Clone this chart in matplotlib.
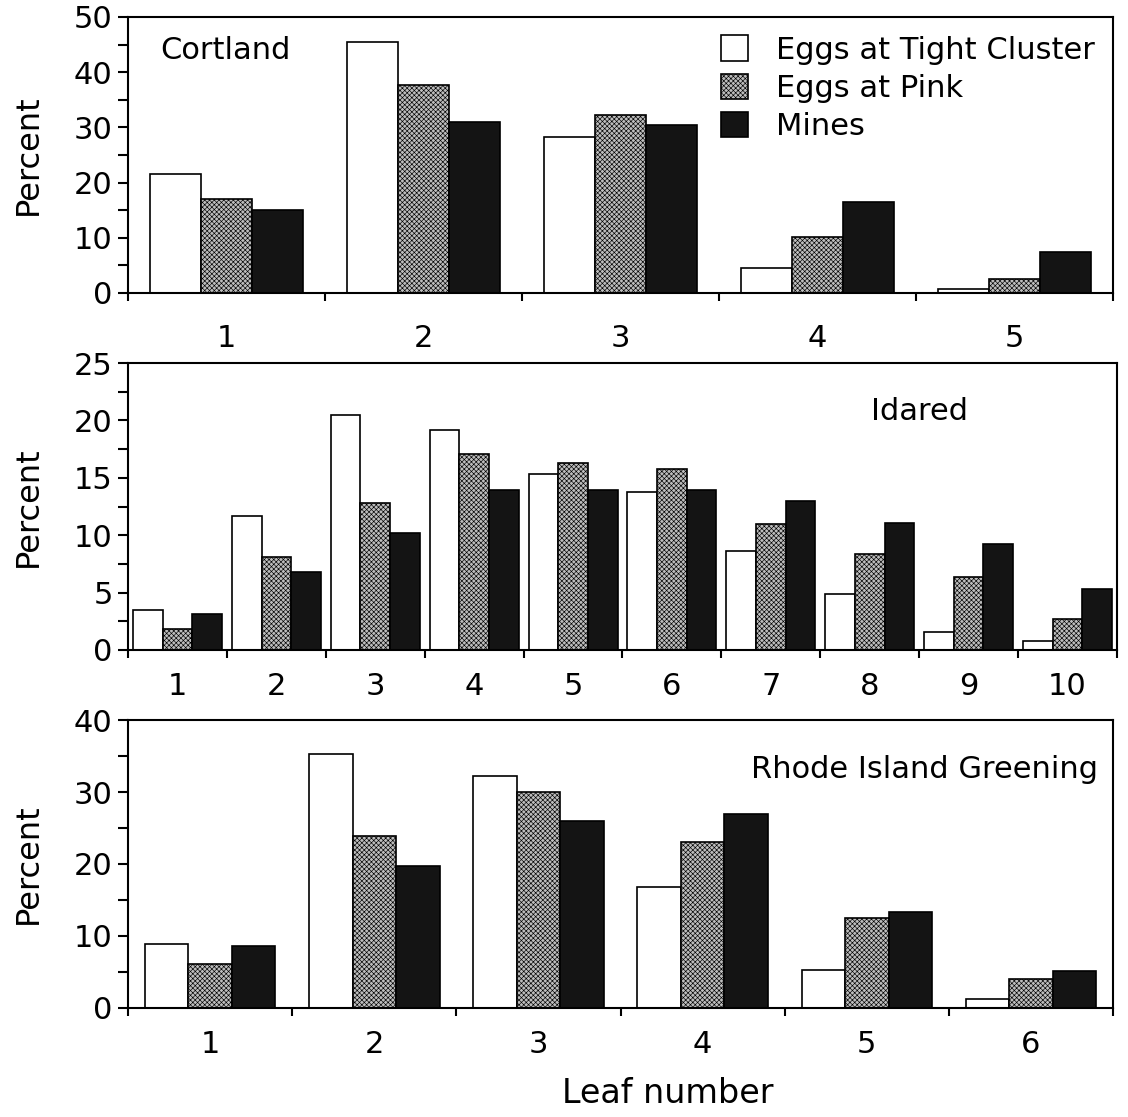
import numpy as np
import matplotlib
matplotlib.use("Agg")
import matplotlib.pyplot as plt
from matplotlib.patches import Patch
from matplotlib.ticker import MultipleLocator, FixedLocator, NullFormatter

plt.rcParams['font.family'] = ['DejaVu Sans']
plt.rcParams['hatch.linewidth'] = 0.45

series = ['Eggs at Tight Cluster', 'Eggs at Pink', 'Mines']

# Cortland, leaves 1-5
cortland_tc = [21.5, 45.5, 28.2, 4.5, 0.7]
cortland_pink = [17.0, 37.6, 32.2, 10.1, 2.5]
cortland_mines = [15.0, 31.0, 30.4, 16.5, 7.4]

# Idared, leaves 1-10
idared_tc = [3.5, 11.7, 20.5, 19.2, 15.3, 13.8, 8.6, 4.9, 1.6, 0.8]
idared_pink = [1.8, 8.1, 12.8, 17.1, 16.3, 15.8, 11.0, 8.4, 6.4, 2.7]
idared_mines = [3.1, 6.8, 10.2, 13.9, 13.9, 13.9, 13.0, 11.1, 9.2, 5.3]

# Rhode Island Greening, leaves 1-6
rig_tc = [8.9, 35.3, 32.2, 16.8, 5.3, 1.3]
rig_pink = [6.1, 23.9, 30.0, 23.1, 12.5, 4.0]
rig_mines = [8.6, 19.7, 26.0, 26.9, 13.3, 5.2]

panels = [
    ('Cortland', [cortland_tc, cortland_pink, cortland_mines], 50, 10, 5,
     [0.1135, 0.7377, 0.8732, 0.2471], 0.26),
    ('Idared', [idared_tc, idared_pink, idared_mines], 25, 5, 2.5,
     [0.1135, 0.4181, 0.8767, 0.2569], 0.30),
    ('Rhode Island Greening', [rig_tc, rig_pink, rig_mines], 40, 10, 5,
     [0.1135, 0.0976, 0.8732, 0.2578], 0.265),
]

styles = [
    dict(facecolor='white', edgecolor='black', hatch=None),
    dict(facecolor='#bdbdbd', edgecolor='black', hatch='xxxxxxx'),
    dict(facecolor='#141414', edgecolor='black', hatch=None),
]

fig = plt.figure(figsize=(11.28, 11.17), dpi=100)

for p, (name, data, ymax, major, minor, rect, w) in enumerate(panels):
    ax = fig.add_axes(rect)
    n = len(data[0])
    x = np.arange(n)
    for k, vals in enumerate(data):
        ax.bar(x + (k - 1) * w, vals, width=w, linewidth=1.2, **styles[k])
    ax.set_xlim(-0.5, n - 0.5)
    ax.set_ylim(0, ymax)

    ax.xaxis.set_major_locator(FixedLocator(np.arange(n + 1) - 0.5))
    ax.xaxis.set_major_formatter(NullFormatter())
    ax.xaxis.set_minor_locator(FixedLocator(x))
    ax.set_xticklabels([str(i + 1) for i in x], minor=True)
    ax.tick_params(axis='x', which='major', direction='out', length=6, width=1.5)
    ax.tick_params(axis='x', which='minor', length=0, pad=22 if p == 0 else 16,
                   labelsize=22)

    ax.yaxis.set_major_locator(MultipleLocator(major))
    ax.yaxis.set_minor_locator(MultipleLocator(minor))
    ax.tick_params(axis='y', which='both', direction='out', length=7, width=1.5,
                   labelsize=22, pad=4)
    for s in ax.spines.values():
        s.set_linewidth(1.5)

    ax.set_ylabel('Percent', fontsize=23)
    ax.yaxis.set_label_coords(-0.085, 0.5)

    if p == 0:
        ax.text(0.033, 0.93, name, transform=ax.transAxes, fontsize=22,
                ha='left', va='top')
        handles = [Patch(**styles[k], linewidth=1.2, label=series[k]) for k in range(3)]
        ax.legend(handles=handles, loc='upper right', frameon=False, fontsize=22,
                  handlelength=0.9, handleheight=0.9, handletextpad=0.9,
                  labelspacing=0.3, borderaxespad=0.2, bbox_to_anchor=(1.0, 1.0))
    elif p == 1:
        ax.text(0.80, 0.88, name, transform=ax.transAxes, fontsize=22,
                ha='center', va='top')
    else:
        ax.text(0.985, 0.88, name, transform=ax.transAxes, fontsize=22,
                ha='right', va='top')

fig.text(0.592, 0.006, 'Leaf number', fontsize=24, ha='center', va='bottom')

fig.savefig('out.png', dpi=100)
